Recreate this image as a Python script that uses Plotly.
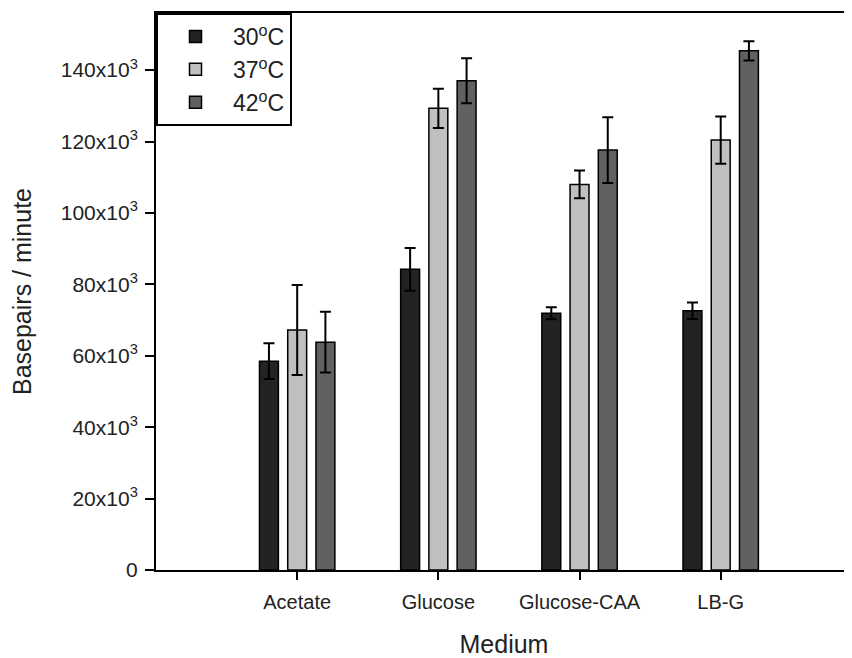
import plotly.graph_objects as go

media = ["Acetate", "Glucose", "Glucose-CAA", "LB-G"]
series_names = ["30<sup>o</sup>C", "37<sup>o</sup>C", "42<sup>o</sup>C"]
vals_30 = [58500, 84200, 71900, 72600]
vals_37 = [67200, 129300, 108000, 120400]
vals_42 = [63800, 137000, 117600, 145400]
err_30 = [5000, 6000, 1700, 2300]
err_37 = [12600, 5500, 3900, 6600]
err_42 = [8500, 6300, 9200, 2700]
colors = ["#232323", "#c0c0c0", "#616161"]
y_tickvals = [0, 20000, 40000, 60000, 80000, 100000, 120000, 140000]
y_ticktext = ["0"] + [f"{v//1000}x10<sup>3</sup>" for v in y_tickvals[1:]]

fig = go.Figure()
for name, vals, errs, col in zip(series_names, [vals_30, vals_37, vals_42],
                                 [err_30, err_37, err_42], colors):
    fig.add_trace(go.Bar(
        x=media, y=vals, name=name,
        marker=dict(color=col, line=dict(color="black", width=1.5)),
        error_y=dict(type="data", array=errs, visible=True,
                     color="black", thickness=2, width=5.5),
    ))

font_family = "Liberation Sans, Arial, sans-serif"
fig.update_layout(
    width=844, height=650,
    margin=dict(l=148, r=0, t=5, b=88),
    paper_bgcolor="white", plot_bgcolor="white",
    barmode="group", bargap=0.4, bargroupgap=0.33,
    font=dict(family=font_family, color="#222222", size=20),
    showlegend=True,
    legend=dict(x=0, y=1, xanchor="left", yanchor="top",
                bgcolor="white", bordercolor="black", borderwidth=2,
                font=dict(size=23, color="#222222"), itemwidth=65,
                traceorder="normal"),
    xaxis=dict(
        title=dict(text="Medium", font=dict(size=25), standoff=34),
        automargin=False,
        range=[-1, 3.93],
        showline=True, linecolor="black", linewidth=2, mirror=True,
        ticks="outside", ticklen=8, tickwidth=2, tickcolor="black",
        tickfont=dict(size=20), ticklabelstandoff=5,
        showgrid=False, zeroline=False,
    ),
    yaxis=dict(
        title=dict(text="Basepairs / minute", font=dict(size=25), standoff=26),
        automargin=False,
        range=[0, 156000],
        tickvals=y_tickvals, ticktext=y_ticktext,
        showline=True, linecolor="black", linewidth=2,
        ticks="outside", ticklen=9, tickwidth=2, tickcolor="black",
        tickfont=dict(size=21), ticklabelstandoff=3,
        showgrid=False, zeroline=False,
    ),
)

fig.write_html("out.html")
